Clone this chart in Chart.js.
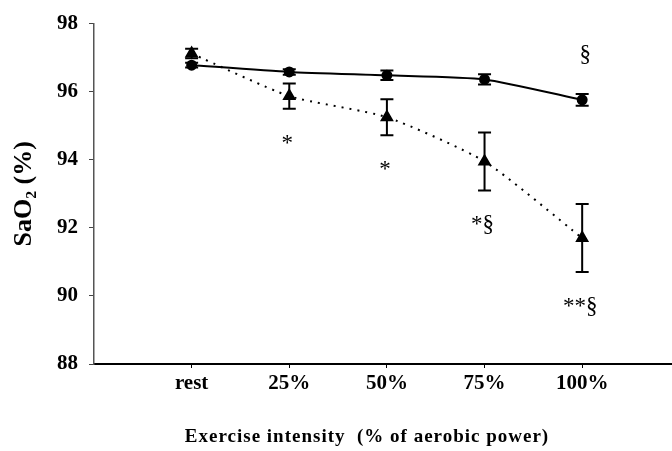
<!DOCTYPE html>
<html>
<head>
<meta charset="utf-8">
<script src="https://cdn.jsdelivr.net/npm/chart.js@4.4.1/dist/chart.umd.min.js"></script>
<style>
  html, body { margin: 0; padding: 0; background: #fff; overflow: hidden; }
  #box { position: relative; width: 672px; height: 451px; }
  #satChart { display: block; }
</style>
</head>
<body>
<div id="box"><canvas id="satChart"></canvas></div>
<script>
const labels = ["rest", "25%", "50%", "75%", "100%"];

// mean SaO2 (%) and SEM for each exercise level
const controlMean = [96.78, 96.58, 96.48, 96.36, 95.76];
const controlSem = [0.07, 0.08, 0.14, 0.15, 0.17];
const hypoxMean = [97.12, 95.87, 95.25, 93.95, 91.7];
const hypoxSem = [0.14, 0.37, 0.53, 0.85, 1.0];

// significance marks above / below the error bars
const controlMarks = ["", "", "", "", "§"];
const hypoxMarks = ["", "*", "*", "*§", "**§"];

const xTitle = "Exercise intensity  (% of aerobic power)";

const serif = "'Liberation Serif', 'Times New Roman', serif";

const toPoints = (arr) => arr.map((v, i) => ({ x: i + 1, y: v }));

const errorBars = {
  id: "errorBars",
  afterDatasetsDraw(chart) {
    const { ctx, scales: { x, y } } = chart;
    ctx.save();
    ctx.strokeStyle = "#000";
    ctx.lineWidth = 2;
    chart.data.datasets.forEach((ds) => {
      ds.sem.forEach((e, i) => {
        const px = x.getPixelForValue(i + 1);
        const top = y.getPixelForValue(ds.means[i] + e);
        const bot = y.getPixelForValue(ds.means[i] - e);
        ctx.beginPath();
        ctx.moveTo(px, top);
        ctx.lineTo(px, bot);
        ctx.moveTo(px - 6.5, top);
        ctx.lineTo(px + 6.5, top);
        ctx.moveTo(px - 6.5, bot);
        ctx.lineTo(px + 6.5, bot);
        ctx.stroke();

        const mark = ds.marks[i];
        if (!mark) return;
        ctx.fillStyle = "#000";
        ctx.font = "23px " + serif;
        ctx.textAlign = "center";
        ctx.textBaseline = "middle";
        if (ds.marksAbove) {
          ctx.fillText(mark, px + 3, top - 39);
        } else {
          ctx.fillText(mark, px - 2, bot + 35);
        }
      });
    });
    ctx.restore();
  },
};

// x axis title, drawn by hand so it can be letter-spaced
const axisTitle = {
  id: "axisTitle",
  afterDraw(chart) {
    const { ctx, chartArea } = chart;
    ctx.save();
    ctx.fillStyle = "#000";
    ctx.font = "bold 19px " + serif;
    ctx.letterSpacing = "1px";
    ctx.textAlign = "center";
    ctx.textBaseline = "middle";
    ctx.fillText(xTitle, chartArea.left + 273, 437);
    ctx.restore();
  },
};

new Chart(document.getElementById("satChart"), {
  type: "line",
  data: {
    datasets: [
      {
        data: toPoints(controlMean),
        means: controlMean,
        sem: controlSem,
        marks: controlMarks,
        marksAbove: true,
        borderColor: "#000",
        borderWidth: 2,
        tension: 0.2,
        pointStyle: "circle",
        pointRadius: 4.5,
        pointBackgroundColor: "#000",
        pointBorderColor: "#000",
      },
      {
        data: toPoints(hypoxMean),
        means: hypoxMean,
        sem: hypoxSem,
        marks: hypoxMarks,
        marksAbove: false,
        borderColor: "#000",
        borderWidth: 2,
        borderDash: [2, 6],
        tension: 0.2,
        pointStyle: "triangle",
        pointRadius: 6,
        pointBackgroundColor: "#000",
        pointBorderColor: "#000",
      },
    ],
  },
  options: {
    responsive: true,
    maintainAspectRatio: false,
    animation: false,
    layout: {
      autoPadding: false,
      padding: { top: 22, right: 0, left: 0, bottom: 0 },
    },
    plugins: {
      legend: { display: false },
      tooltip: { enabled: false },
    },
    scales: {
      x: {
        type: "linear",
        min: 0,
        max: 5.92,
        afterBuildTicks(scale) {
          scale.ticks = labels.map((_, i) => ({ value: i + 1 }));
        },
        afterFit(scale) {
          scale.height = 87;
        },
        grid: {
          drawOnChartArea: false,
          drawTicks: true,
          tickLength: 4,
          color: "#000",
        },
        border: { color: "#000", width: 2 },
        ticks: {
          color: "#000",
          padding: 3,
          font: { family: serif, size: 21, weight: "bold" },
          callback: (v) => labels[v - 1],
        },
      },
      y: {
        min: 88,
        max: 98,
        afterFit(scale) {
          scale.width = 94;
        },
        grid: {
          drawOnChartArea: false,
          drawTicks: true,
          tickLength: 5,
          color: "#444",
        },
        border: { color: "#555", width: 1.5, dash: [3, 2] },
        ticks: {
          stepSize: 2,
          color: "#000",
          padding: 11,
          font: { family: serif, size: 21, weight: "bold" },
        },
        title: {
          display: true,
          text: "SaO₂ (%)",
          color: "#000",
          padding: { top: 9, bottom: 0 },
          font: { family: serif, size: 26, weight: "bold" },
        },
      },
    },
  },
  plugins: [errorBars, axisTitle],
});
</script>
</body>
</html>
